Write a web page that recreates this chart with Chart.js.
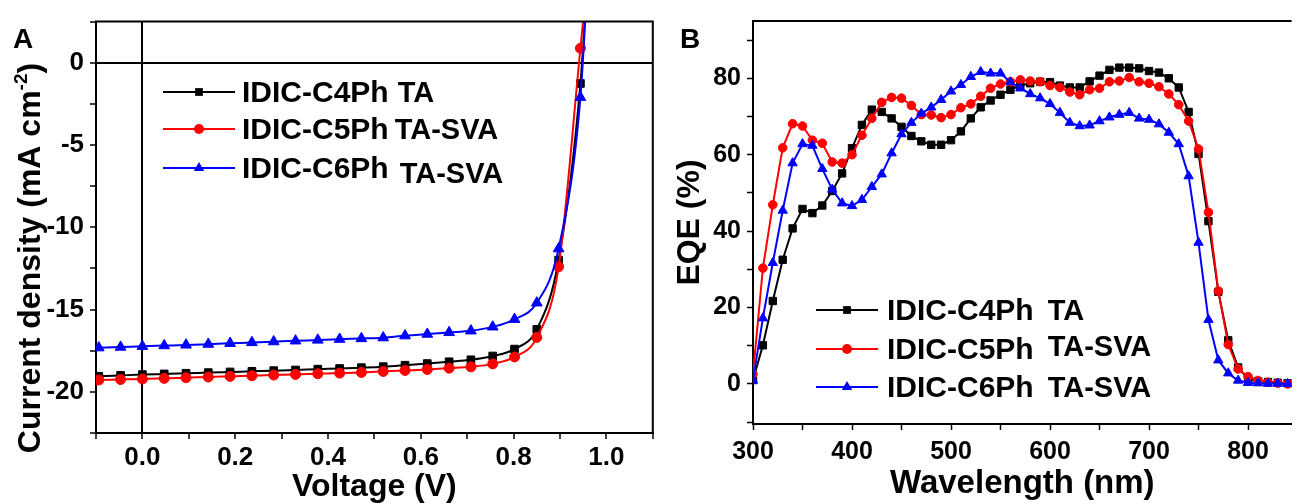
<!DOCTYPE html>
<html>
<head>
<meta charset="utf-8">
<script src="https://cdn.jsdelivr.net/npm/chart.js@4.4.1/dist/chart.umd.min.js"></script>
<style>
html, body { margin: 0; padding: 0; background: #fff; }
#wrap { position: relative; width: 1298px; height: 504px; overflow: hidden; }
canvas { position: absolute; top: 0; }
#jv { left: 0; }
#eqe { left: 660px; }
</style>
</head>
<body>
<div id="wrap">
  <canvas id="jv" width="660" height="504"></canvas>
  <canvas id="eqe" width="638" height="504"></canvas>
</div>
<script>
// ---- panel A : J-V curves ----
const voltage = [-0.094, -0.047, 0, 0.047, 0.094, 0.142, 0.189, 0.236, 0.283, 0.330, 0.378, 0.425,
                 0.472, 0.519, 0.566, 0.614, 0.661, 0.708, 0.755, 0.802, 0.850, 0.897, 0.944, 0.962];
const jC4 = [-19.05, -19.00, -18.95, -18.91, -18.87, -18.83, -18.79, -18.75, -18.71, -18.67, -18.62, -18.58,
             -18.53, -18.47, -18.38, -18.28, -18.17, -18.05, -17.82, -17.40, -16.20, -12.0, -1.26, 6.5];
const jC5 = [-19.28, -19.25, -19.22, -19.18, -19.14, -19.10, -19.06, -19.02, -18.98, -18.94, -18.90, -18.86,
             -18.82, -18.76, -18.70, -18.64, -18.56, -18.48, -18.30, -17.88, -16.69, -12.4, 0.88, 6.0];
const jC6 = [-17.32, -17.28, -17.23, -17.19, -17.15, -17.10, -17.05, -17.00, -16.95, -16.90, -16.85, -16.80,
             -16.76, -16.71, -16.59, -16.49, -16.39, -16.29, -16.05, -15.59, -14.59, -11.3, -2.1, 6.5];
const vTickLabels = ['0.0', '0.2', '0.4', '0.6', '0.8', '1.0'];
const jTickLabels = ['0', '-5', '-10', '-15', '-20'];

// ---- panel B : EQE ----
const wavelength = [300, 310, 320, 330, 340, 350, 360, 370, 380, 390, 400, 410, 420, 430, 440, 450, 460, 470,
                    480, 490, 500, 510, 520, 530, 540, 550, 560, 570, 580, 590, 600, 610, 620, 630, 640, 650,
                    660, 670, 680, 690, 700, 710, 720, 730, 740, 750, 760, 770, 780, 790, 800, 810, 820, 830, 840];
const eqeC4 = [1.0, 10.1, 21.7, 32.5, 40.7, 45.8, 44.7, 46.7, 50.5, 55.1, 61.7, 67.8, 71.8, 71.2, 69.5, 67.3,
               64.9, 63.5, 62.6, 62.6, 63.8, 66.1, 69.5, 72.4, 74.2, 75.7, 77.0, 78.1, 78.7, 79.1, 79.0, 78.1,
               77.6, 77.6, 79.2, 80.7, 82.2, 82.8, 82.8, 82.6, 81.9, 81.5, 80.0, 77.6, 71.2, 60.2, 42.6, 24.1,
               11.4, 4.3, 1.3, 0.7, 0.5, 0.3, 0.2];
const eqeC5 = [2.6, 30.3, 46.9, 61.8, 68.1, 67.5, 63.8, 63.0, 58.1, 57.8, 60.0, 65.1, 69.5, 73.7, 75.0, 74.8,
               72.9, 70.5, 70.4, 69.7, 70.5, 72.3, 73.3, 75.3, 77.4, 78.5, 79.1, 79.6, 79.3, 79.1, 78.1, 77.6,
               76.4, 75.7, 77.0, 77.4, 79.1, 79.3, 80.2, 79.1, 78.7, 77.8, 75.9, 73.1, 68.8, 61.5, 44.9, 24.3,
               10.3, 3.9, 1.9, 0.9, 0.4, 0.2, 0.0];
const eqeC6 = [0.9, 17.2, 31.7, 45.4, 57.8, 62.8, 62.4, 56.3, 50.9, 47.3, 46.6, 48.2, 51.6, 54.9, 60.4, 65.4,
               68.4, 70.8, 72.4, 74.4, 76.6, 78.3, 80.4, 81.7, 81.3, 81.3, 79.0, 77.4, 75.9, 74.8, 73.3, 71.0,
               68.4, 67.5, 67.7, 68.8, 69.8, 70.5, 71.0, 69.5, 69.2, 68.0, 65.8, 62.8, 54.4, 37.0, 16.8, 6.2,
               2.8, 0.9, 0.3, 0.2, 0.1, 0.1, 0.0];
const wlTickLabels = ['300', '400', '500', '600', '700', '800'];
const eqeTickLabels = ['0', '20', '40', '60', '80'];

const seriesNames = ['IDIC-C4Ph TA', 'IDIC-C5Ph TA-SVA', 'IDIC-C6Ph TA-SVA'];

const FONT = "'Liberation Sans', Arial, Helvetica, sans-serif";
const BLACK = '#000000', RED = '#ff0000', BLUE = '#0000ff';

function pts(xs, ys) { return xs.map((x, i) => ({ x: x, y: ys[i] })); }

function marker(ctx, style, x, y, r, color) {
  ctx.fillStyle = color;
  ctx.beginPath();
  if (style === 'rect') {
    const s = Math.SQRT1_2 * r;
    ctx.rect(x - s, y - s, 2 * s, 2 * s);
  } else if (style === 'triangle') {
    let a = 0;
    ctx.moveTo(x + Math.sin(a) * r, y - Math.cos(a) * r);
    a += 2 * Math.PI / 3;
    ctx.lineTo(x + Math.sin(a) * r, y - Math.cos(a) * r);
    a += 2 * Math.PI / 3;
    ctx.lineTo(x + Math.sin(a) * r, y - Math.cos(a) * r);
    ctx.closePath();
  } else {
    ctx.arc(x, y, r, 0, Math.PI * 2);
  }
  ctx.fill();
}

// frame top/right, panel letter, inside legend, superscript y title
const decor = {
  id: 'decor',
  afterDraw(chart, args, o) {
    const ctx = chart.ctx, a = chart.chartArea;
    ctx.save();
    ctx.strokeStyle = BLACK;
    ctx.lineWidth = 2;
    ctx.beginPath();
    ctx.moveTo(a.left - 1, a.top);
    ctx.lineTo(a.right, a.top);
    if (o.rightBorder) ctx.lineTo(a.right, a.bottom + 1);
    ctx.stroke();

    ctx.fillStyle = BLACK;
    ctx.textAlign = 'left';
    ctx.textBaseline = 'alphabetic';
    ctx.font = 'bold 28px ' + FONT;
    ctx.fillText(o.letter, o.letterX, o.letterY);

    const L = o.legend;
    chart.data.datasets.forEach((ds, i) => {
      const y = L.rows[i];
      ctx.strokeStyle = ds.borderColor;
      ctx.lineWidth = 2;
      ctx.beginPath();
      ctx.moveTo(L.x0, y);
      ctx.lineTo(L.x1, y);
      ctx.stroke();
      marker(ctx, ds.pointStyle, (L.x0 + L.x1) / 2, y, ds.legendRadius, ds.borderColor);
      const sp = ds.label.indexOf(' ');
      const name = ds.label.slice(0, sp), tag = ds.label.slice(sp + 1);
      ctx.fillStyle = BLACK;
      ctx.font = 'bold 30px ' + FONT;
      ctx.fillText(name, L.tx, y + 10);
      const w = ctx.measureText(name).width;
      ctx.font = 'bold 29px ' + FONT;
      ctx.fillText(tag, L.tx + w + L.gap + L.tagDx[i], y + 10 + L.tagDy[i]);
    });

    if (o.yTitle) {
      const t = o.yTitle;
      ctx.translate(t.x, t.y);
      ctx.rotate(-Math.PI / 2);
      ctx.font = 'bold 32px ' + FONT;
      const w1 = ctx.measureText(t.main).width;
      const w3 = ctx.measureText(t.end).width;
      ctx.font = 'bold 19px ' + FONT;
      const w2 = ctx.measureText(t.sup).width;
      let x = -(w1 + w2 + w3) / 2;
      ctx.font = 'bold 32px ' + FONT;
      ctx.fillText(t.main, x, 0);
      x += w1;
      ctx.font = 'bold 19px ' + FONT;
      ctx.fillText(t.sup, x, -13);
      x += w2;
      ctx.font = 'bold 32px ' + FONT;
      ctx.fillText(t.end, x, 0);
    }
    ctx.restore();
  }
};

function zeroGrid(c) { return c.tick && Math.abs(c.tick.value) < 1e-9 ? BLACK : 'rgba(0,0,0,0)'; }

function lineSet(label, data, color, style, r, order, extra) {
  return Object.assign({
    label: label,
    data: data,
    borderColor: color,
    backgroundColor: color,
    borderWidth: 2,
    pointStyle: style,
    pointRadius: r,
    pointBackgroundColor: color,
    pointBorderColor: color,
    pointBorderWidth: 1,
    order: order,
    tension: 0
  }, extra || {});
}

// ---------- chart A ----------
const tailHidden = voltage.map((v, i) => i === voltage.length - 1 ? 0 : null);
function radii(r) { return tailHidden.map(h => h === 0 ? 0 : r); }
const smooth = { cubicInterpolationMode: 'monotone', clip: { left: 0, top: 0, right: 0, bottom: 0 } };

new Chart(document.getElementById('jv').getContext('2d'), {
  type: 'line',
  data: {
    datasets: [
      lineSet(seriesNames[0], pts(voltage, jC4), BLACK, 'rect', radii(5.4), 3, Object.assign({ legendRadius: 5.5 }, smooth)),
      lineSet(seriesNames[1], pts(voltage, jC5), RED, 'circle', radii(5), 2, Object.assign({ legendRadius: 5 }, smooth)),
      lineSet(seriesNames[2], pts(voltage, jC6), BLUE, 'triangle', radii(6.2), 1, Object.assign({ legendRadius: 6 }, smooth))
    ]
  },
  options: {
    responsive: false,
    animation: false,
    devicePixelRatio: 1,
    layout: { padding: { top: 15, right: 2, left: 0, bottom: 0 } },
    plugins: {
      legend: { display: false },
      tooltip: { enabled: false },
      decor: {
        rightBorder: true,
        letter: 'A', letterX: 13, letterY: 48,
        legend: { x0: 163, x1: 235, tx: 242, gap: 8, rows: [92, 129, 168], tagDx: [1, -2, 3], tagDy: [0, 0, 5] },
        yTitle: { x: 40, y: 258, main: 'Current density (mA cm', sup: '-2', end: ')' }
      }
    },
    scales: {
      x: {
        type: 'linear', min: -0.1, max: 1.1,
        afterFit: s => { s.height = 71; },
        border: { display: true, color: BLACK, width: 2 },
        grid: { color: zeroGrid, lineWidth: 2, tickColor: BLACK, tickLength: 6, tickWidth: 1.5 },
        ticks: {
          stepSize: 0.1, autoSkip: false, maxRotation: 0, padding: 3, color: BLACK,
          font: { family: FONT, size: 26, weight: 'bold' },
          callback: v => { const k = Math.round(v * 10); return (k >= 0 && k % 2 === 0) ? (vTickLabels[k / 2] || '') : ''; }
        },
        title: { display: true, text: 'Voltage (V)', color: BLACK, font: { family: FONT, size: 32, weight: 'bold', lineHeight: 1 }, padding: { top: 0, bottom: 1 } }
      },
      y: {
        type: 'linear', min: -22.5, max: 2.5,
        afterFit: s => { s.width = 96; },
        border: { display: true, color: BLACK, width: 2 },
        grid: { color: zeroGrid, lineWidth: 2, tickColor: BLACK, tickLength: 6, tickWidth: 1.5 },
        ticks: {
          stepSize: 2.5, autoSkip: false, padding: 6, color: BLACK,
          font: { family: FONT, size: 26, weight: 'bold' },
          callback: v => { const k = Math.round(-v / 5 * 2); return (k >= 0 && k % 2 === 0) ? (jTickLabels[k / 2] || '') : ''; }
        }
      }
    }
  },
  plugins: [decor]
});

// ---------- chart B ----------
new Chart(document.getElementById('eqe').getContext('2d'), {
  type: 'line',
  data: {
    datasets: [
      lineSet(seriesNames[0], pts(wavelength, eqeC4), BLACK, 'rect', 5.2, 3, { legendRadius: 5.5 }),
      lineSet(seriesNames[1], pts(wavelength, eqeC5), RED, 'circle', 4.3, 2, { legendRadius: 5 }),
      lineSet(seriesNames[2], pts(wavelength, eqeC6), BLUE, 'triangle', 5.4, 1, { legendRadius: 6 })
    ]
  },
  options: {
    responsive: false,
    animation: false,
    devicePixelRatio: 1,
    layout: { padding: { top: 15, right: 0, left: 0, bottom: 0 } },
    plugins: {
      legend: { display: false },
      tooltip: { enabled: false },
      decor: {
        rightBorder: false,
        letter: 'B', letterX: 20, letterY: 48,
        legend: { x0: 156, x1: 218, tx: 227, gap: 14, rows: [310, 349, 387], tagDx: [0, 0, 0], tagDy: [0, -3, 0] }
      }
    },
    scales: {
      x: {
        type: 'linear', min: 300, max: 844,
        afterFit: s => { s.height = 80; },
        border: { display: true, color: BLACK, width: 2 },
        grid: { display: true, color: 'rgba(0,0,0,0)', tickColor: BLACK, tickLength: 6, tickWidth: 1.5 },
        ticks: {
          stepSize: 50, includeBounds: false, autoSkip: false, maxRotation: 0, padding: 7, color: BLACK,
          font: { family: FONT, size: 25, weight: 'bold' },
          callback: v => { const k = Math.round((v - 300) / 50); return k % 2 === 0 ? (wlTickLabels[k / 2] || '') : ''; }
        },
        title: { display: true, text: 'Wavelength (nm)', color: BLACK, font: { family: FONT, size: 33, weight: 'bold', lineHeight: 1 }, padding: { top: 0, bottom: 4 } }
      },
      y: {
        type: 'linear', min: -10.5, max: 95,
        afterFit: s => { s.width = 93; },
        border: { display: true, color: BLACK, width: 2 },
        grid: { display: true, color: 'rgba(0,0,0,0)', tickColor: BLACK, tickLength: 6, tickWidth: 1.5 },
        ticks: {
          stepSize: 10, includeBounds: false, autoSkip: false, padding: 6, color: BLACK,
          font: { family: FONT, size: 25, weight: 'bold' },
          callback: v => { const k = Math.round(v / 10); return (k >= 0 && k % 2 === 0) ? (eqeTickLabels[k / 2] || '') : ''; }
        },
        title: { display: true, text: 'EQE (%)', color: BLACK, font: { family: FONT, size: 32, weight: 'bold', lineHeight: 1 }, padding: { top: 14, bottom: 0 } }
      }
    }
  },
  plugins: [decor]
});
</script>
</body>
</html>
